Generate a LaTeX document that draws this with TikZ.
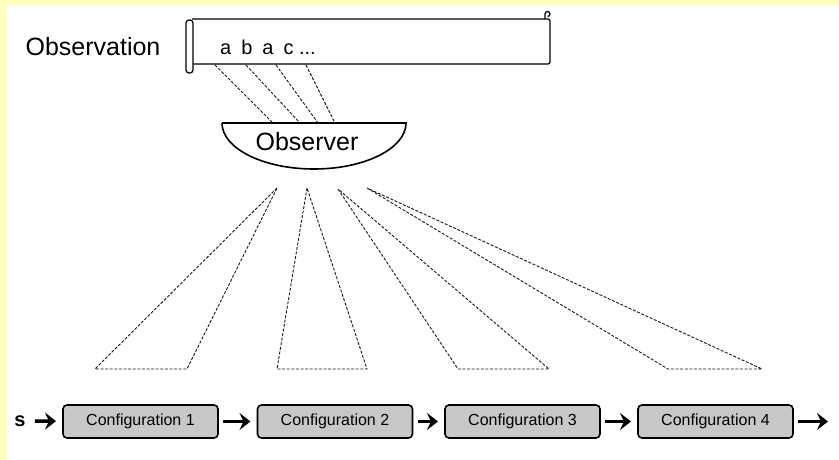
\documentclass[tikz,border=0pt]{standalone}
\usepackage{fontspec}
\setmainfont{Liberation Sans}
\usetikzlibrary{arrows.meta}

\definecolor{paleyellow}{RGB}{255,255,190}
\definecolor{boxgray}{RGB}{200,200,200}

\begin{document}
\begin{tikzpicture} [
    x=1pt, y=-1pt,
    cfg/.style={rectangle, rounded corners=4pt, draw=black, line width=1.6pt,
      fill=boxgray, minimum width=155pt, minimum height=33pt, inner sep=0pt,
      outer sep=0pt, font=\fontsize{16}{18}\selectfont},
    big/.style={font=\fontsize{25}{30}\selectfont},
    view/.style={dashed, dash pattern=on 3pt off 1.6pt, line width=0.9pt, black!90},
    step arr/.style={-{Stealth[length=11pt,width=17pt,inset=4pt]}, line width=3.5pt,
      shorten <=5pt, shorten >=7pt},
    ]
    \useasboundingbox (0,0) rectangle (839,460);
    \fill[paleyellow] (0,0) rectangle (839,460);
    \fill[white] (7,5) rectangle (839,460);

    % Observation tape
    \node[big] (lbl) at (93,47) {Observation};
    \draw[line width=1.2pt, rounded corners=2pt] (192,19) -- (550,19) -- (550,64) -- (192,64);
    \draw[line width=1.2pt, rounded corners=3pt, fill=white] (186,20) rectangle (193,73);
    \draw[line width=1.2pt] (545,19) -- (545,14) arc[start angle=180, end angle=-90, radius=2.5pt];
    \node[font=\fontsize{20}{24}\selectfont] (seq) at (268,47) {a\,\,\,b\,\,\,a\,\,\,c ...};

    % Observer
    \draw[line width=1.6pt] (222,123) -- (406,123)
      arc[start angle=0, end angle=180, x radius=92, y radius=46];
    \node[big] (obs) at (307,142) {Observer};

    % symbols read off the tape
    \foreach \i/\sx/\ox in {1/215/273, 2/246/300, 3/276/318, 4/306/335} {
      \coordinate (s\i) at (\sx,65);
      \coordinate (o\i) at (\ox,123);
      \draw[view] (s\i) -- (o\i);
    }

    % Configurations
    \node (st) at (20,421) [inner sep=4pt, font=\bfseries\fontsize{20}{22}\selectfont] {s};
    \node[cfg] (c1) at (140.5,421.5) {Configuration 1};
    \node[cfg] (c2) at (335,421.5) {Configuration 2};
    \node[cfg] (c3) at (522.5,421.5) {Configuration 3};
    \node[cfg] (c4) at (715.5,421.5) {Configuration 4};
    \coordinate (fin) at (835,421.5);

    \draw[step arr] (st) -- (c1);
    \foreach \a/\b in {c1/c2, c2/c3, c3/c4, c4/fin}
      \draw[step arr] (\a) -- (\b);

    % what the observer sees of each configuration
    \foreach \i/\ax/\ay/\lx/\rx in {1/277/188/95/187, 2/307/188/277/367,
                                   3/338/189/458/549, 4/367/188/668/762} {
      \coordinate (a\i) at (\ax,\ay);
      \coordinate (l\i) at (\lx,369);
      \coordinate (r\i) at (\rx,369);
      \draw[view] (a\i) -- (l\i) -- (r\i) -- cycle;
    }
  \end{tikzpicture}
\end{document}
